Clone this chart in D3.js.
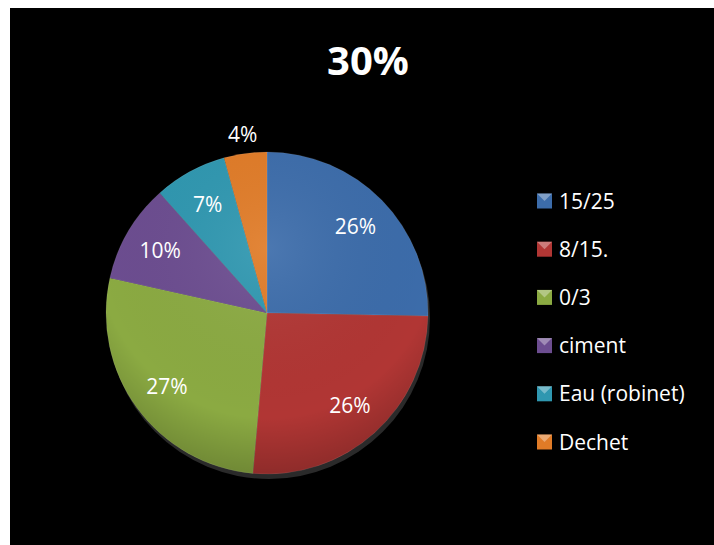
<!DOCTYPE html>
<html><head><meta charset="utf-8">
<script src="https://cdn.jsdelivr.net/npm/d3@7/dist/d3.min.js"></script>
<style>html,body{margin:0;padding:0;background:#fff;}svg{display:block;}</style>
</head><body>
<script>
const title = "30%";
const categories = ["15/25", "8/15.", "0/3", "ciment", "Eau (robinet)", "Dechet"];
const values = [25.3, 26.1, 27.1, 9.9, 7.3, 4.3];
const labels = ["26%", "26%", "27%", "10%", "7%", "4%"];
const colors = ["#3C6CAA", "#B13634", "#8BAA42", "#6C4D90", "#2F97B0", "#E07B27"];

const W = 714, H = 545;
const FONT = "'Open Sans', Lato, sans-serif";
const svg = d3.select("body").append("svg").attr("width", W).attr("height", H);
svg.append("rect").attr("x", 10).attr("y", 8).attr("width", W - 10).attr("height", H - 8).attr("fill", "#000");

const defs = svg.append("defs");
const shade = defs.append("radialGradient").attr("id", "shade")
  .attr("cx", "50%").attr("cy", "30%").attr("r", "75%");
shade.append("stop").attr("offset", "0%").attr("stop-color", "#fff").attr("stop-opacity", 0.08);
shade.append("stop").attr("offset", "70%").attr("stop-color", "#000").attr("stop-opacity", 0.0);
shade.append("stop").attr("offset", "100%").attr("stop-color", "#000").attr("stop-opacity", 0.25);

const cx = 267, cy = 313, R = 161;
const pie = d3.pie().sort(null).value(d => d)(values);
const arc = d3.arc().innerRadius(0).outerRadius(R);
const g = svg.append("g").attr("transform", `translate(${cx},${cy})`);

g.append("ellipse").attr("cx", 2).attr("cy", 5).attr("rx", R).attr("ry", R)
  .attr("fill", "#2a2a2a");

g.selectAll("path.slice").data(pie).enter().append("path")
  .attr("class", "slice").attr("d", arc).attr("fill", (d, i) => colors[i])
  .attr("stroke", "rgba(255,255,255,0.15)").attr("stroke-width", 0.6);
g.append("circle").attr("r", R).attr("fill", "url(#shade)");

const labelArc = d3.arc().innerRadius(R * 0.77).outerRadius(R * 0.77);
const outerArc = d3.arc().innerRadius(R * 1.12).outerRadius(R * 1.12);
g.selectAll("text.lbl").data(pie).enter().append("text")
  .attr("class", "lbl")
  .attr("transform", (d, i) => `translate(${(i === 5 ? outerArc : labelArc).centroid(d)})`)
  .attr("text-anchor", "middle").attr("dy", "0.35em")
  .attr("fill", "#fff").attr("font-family", FONT).attr("font-size", 21)
  .text((d, i) => labels[i]);

svg.append("text").attr("x", 368).attr("y", 75).attr("text-anchor", "middle")
  .attr("fill", "#fff").attr("font-family", FONT)
  .attr("font-weight", "bold").attr("font-size", 40).text(title);

const y = d3.scalePoint().domain(categories).range([201, 442]);
const leg = svg.append("g");
const items = leg.selectAll("g").data(categories).enter().append("g")
  .attr("transform", d => `translate(537,${y(d)})`);
items.append("rect").attr("x", 0).attr("y", -7.5).attr("width", 15).attr("height", 15)
  .attr("fill", (d, i) => colors[i]);
items.append("path").attr("d", "M0,-7.5 L15,-7.5 L7.5,0 Z").attr("fill", "rgba(255,255,255,0.35)");
items.append("text").attr("x", 22).attr("y", 0).attr("dy", "0.36em")
  .attr("fill", "#fff").attr("font-family", FONT).attr("font-size", 21)
  .text(d => d);
</script>
</body></html>
